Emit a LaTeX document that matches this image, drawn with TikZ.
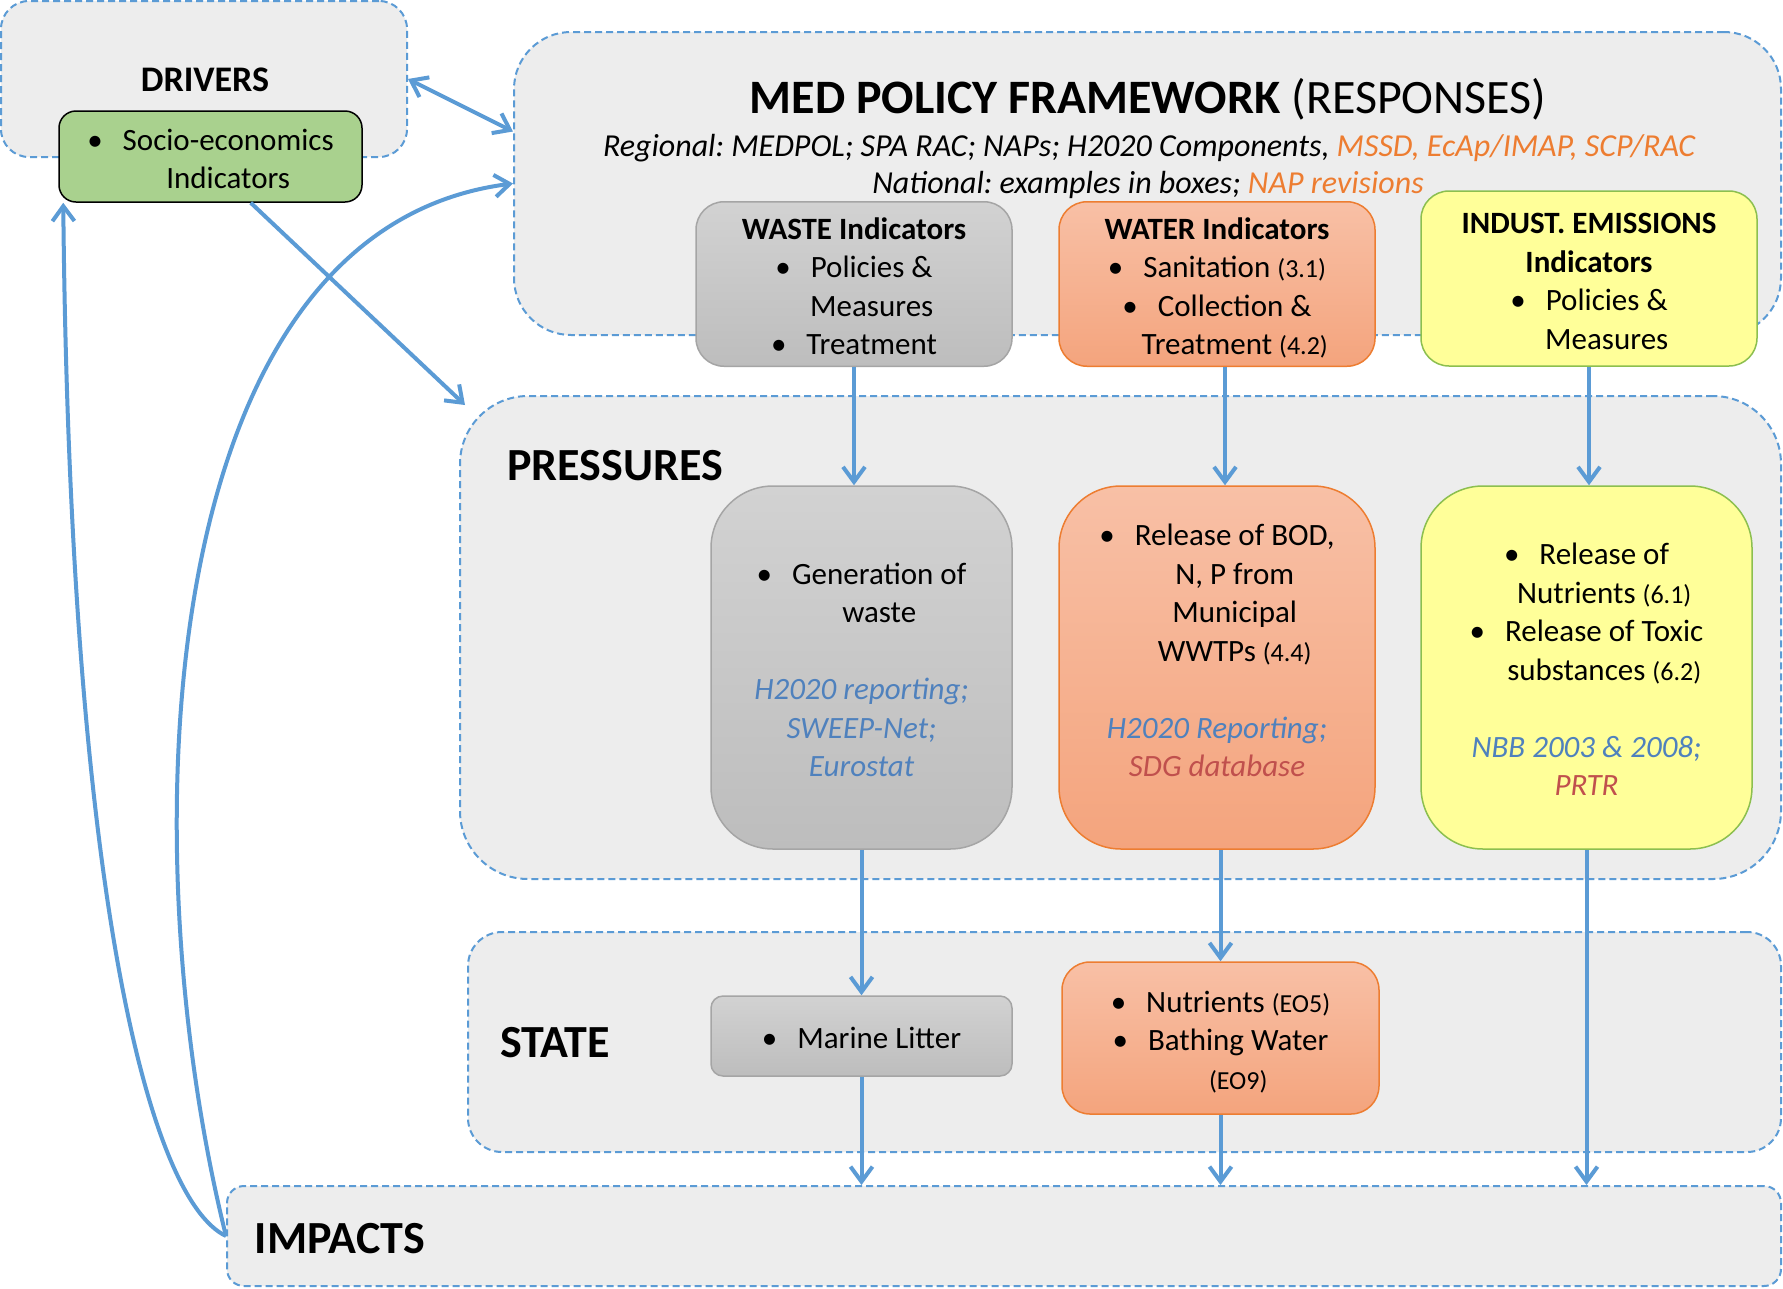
\documentclass[tikz,border=0pt]{standalone}
\usepackage{fontspec}
\setmainfont{Carlito}
\usepackage{tikz}
\usetikzlibrary{arrows.meta}

\definecolor{dpsblue}{HTML}{5B9BD5}
\definecolor{panelgray}{HTML}{EDEDED}
\definecolor{wastetop}{HTML}{D2D2D2}
\definecolor{wastebot}{HTML}{BDBDBD}
\definecolor{wasteline}{HTML}{A5A5A5}
\definecolor{watertop}{HTML}{F8C0A6}
\definecolor{waterbot}{HTML}{F4A47D}
\definecolor{waterline}{HTML}{ED7D31}
\definecolor{industfill}{HTML}{FFFF99}
\definecolor{industline}{HTML}{8CBF4F}
\definecolor{drivfill}{HTML}{A9D18E}
\definecolor{srcblue}{HTML}{4F81BD}
\definecolor{srcred}{HTML}{C0504D}
\definecolor{naporange}{HTML}{ED7D31}

\frenchspacing
\setlength{\lineskip}{0pt}
\newcommand{\bodyfont}{\fontsize{31}{38.5}\selectfont}
\newcommand{\bitem}[1]{\strut\hphantom{\textbullet\hspace{20pt}}\begin{tabular}[t]{@{}c@{}}\llap{\textbullet\hspace{20pt}}#1\end{tabular}}
\newcommand{\smallnum}[1]{{\fontsize{26}{38.5}\selectfont #1}}
\newcommand{\srcb}[1]{\strut\textcolor{srcblue}{\itshape #1}}
\newcommand{\srcr}[1]{\strut\textcolor{srcred}{\itshape #1}}
\newcommand{\boxtop}{\strut\\[-28pt]}

\begin{document}
\begin{tikzpicture}[x=1pt,y=-1pt,
  panel/.style={draw=dpsblue,line width=2pt,dash pattern=on 7pt off 4pt,fill=panelgray,rounded corners=#1,inner sep=0pt},
  stagelabel/.style={font=\fontsize{46}{52}\selectfont\bfseries},
  graybox/.style={draw=wasteline,line width=1.5pt,top color=wastetop,bottom color=wastebot,rounded corners=#1,align=center,inner sep=0pt,font=\bodyfont},
  orangebox/.style={draw=waterline,line width=1.5pt,top color=watertop,bottom color=waterbot,rounded corners=#1,align=center,inner sep=0pt,font=\bodyfont},
  yellowbox/.style={draw=industline,line width=1.5pt,fill=industfill,rounded corners=#1,align=center,inner sep=0pt,font=\bodyfont},
  greenbox/.style={draw=black,line width=1.5pt,fill=drivfill,rounded corners=#1,align=center,inner sep=0pt,font=\bodyfont},
  flow/.style={draw=dpsblue,line width=4pt,-{Straight Barb[length=15pt,width=22pt]}},
  flowboth/.style={flow,{Straight Barb[length=15pt,width=22pt]}-{Straight Barb[length=15pt,width=22pt]}}]
\path[use as bounding box,fill=white] (0,0) rectangle (1783,1288);
\clip (0,0) rectangle (1783,1288);

\node[panel=28pt,minimum width=406pt,minimum height=156pt] (drv) at (204,79) {};
\node[panel=57pt,minimum width=1267pt,minimum height=303pt] (med) at (1147.5,183.5) {};
\node[panel=68pt,minimum width=1321pt,minimum height=483pt] (prs) at (1120.5,637.5) {};
\node[panel=34pt,minimum width=1313pt,minimum height=220pt] (sta) at (1124.5,1042) {};
\node[panel=17pt,minimum width=1554pt,minimum height=100pt] (imp) at (1004,1236) {};

\node[font=\fontsize{36}{40}\selectfont\bfseries] (drvlabel) at (205,80) {DRIVERS};
\node[stagelabel] (prslabel) at (615,466) {PRESSURES};
\node[stagelabel] (stalabel) at (555,1043) {STATE};
\node[stagelabel] (implabel) at (340,1239) {IMPACTS};
\node[font=\fontsize{48}{56}\selectfont] (medtitle) at (1148,99) {\textbf{MED POLICY FRAMEWORK} (RESPONSES)};
\node[font=\fontsize{32}{38}\selectfont\itshape] (medreg) at (1149,148) {Regional: MEDPOL; SPA RAC; NAPs; H2020 Components, \textcolor{naporange}{MSSD, EcAp/IMAP, SCP/RAC}};
\node[font=\fontsize{32}{38}\selectfont\itshape] (mednat) at (1148,185) {National: examples in boxes; \textcolor{naporange}{NAP revisions}};

\node[greenbox=17pt,minimum width=303pt,minimum height=91pt] (socio) at (210.5,156.5) {\boxtop\bitem{Socio-economics\\Indicators}};

\node[graybox=28pt,minimum width=316pt,minimum height=164pt] (wasteind) at (854,284)
  {\boxtop{\strut\bfseries WASTE Indicators}\\\bitem{Policies \&\\Measures}\\\bitem{Treatment}};
\node[orangebox=28pt,minimum width=316pt,minimum height=164pt] (waterind) at (1217,284)
  {\boxtop{\strut\bfseries WATER Indicators}\\\bitem{Sanitation \smallnum{(3.1)}}\\\bitem{Collection \&\\Treatment \smallnum{(4.2)}}};
\node[yellowbox=28pt,minimum width=336pt,minimum height=175pt] (industind) at (1589,278.5)
  {\boxtop{\strut\bfseries INDUST. EMISSIONS}\\{\strut\bfseries Indicators}\\\bitem{Policies \&\\Measures}};

\node[graybox=62pt,minimum width=301pt,minimum height=363pt] (wastep) at (861.5,667.5)
  {\boxtop\bitem{Generation of\\waste}\\\strut\\\srcb{H2020 reporting;}\\\srcb{SWEEP-Net;}\\\srcb{Eurostat}};
\node[orangebox=62pt,minimum width=316pt,minimum height=363pt] (waterp) at (1217,667.5)
  {\boxtop\bitem{Release of BOD,\\N, P from\\Municipal\\WWTPs \smallnum{(4.4)}}\\\strut\\\srcb{H2020 Reporting;}\\\srcr{SDG database}\\\strut};
\node[yellowbox=62pt,minimum width=331pt,minimum height=363pt] (industp) at (1586.5,667.5)
  {\boxtop\bitem{Release of\\Nutrients \smallnum{(6.1)}}\\\bitem{Release of Toxic\\substances \smallnum{(6.2)}}\\\strut\\\srcb{NBB 2003 \& 2008;}\\\srcr{PRTR}};

\node[graybox=12pt,minimum width=301pt,minimum height=80pt] (litter) at (861.5,1036) {\boxtop\bitem{Marine Litter}};
\node[orangebox=28pt,minimum width=317pt,minimum height=152pt] (eo) at (1220.5,1038)
  {\boxtop\bitem{Nutrients \smallnum{(EO5)}}\\\bitem{Bathing Water\\\smallnum{(EO9)}}};

\draw[flowboth] (drv.east) -- ([yshift=52pt]med.west);
\draw[flow] (socio.-49) -- ([xshift=6pt,yshift=-10pt]prs.north west);
\draw[flow] (imp.west) .. controls (150,1200) and (70,900) .. ([xshift=5pt]socio.south west);
\draw[flow] (imp.west) .. controls (130,850) and (150,230) .. (med.west);
\foreach \a/\b in {wasteind/wastep,industind/industp}
  \draw[flow] (\a.south) -- (\a.south |- \b.north);
\draw[flow] ([xshift=8pt]waterind.south) -- ([xshift=8pt]waterind.south |- waterp.north);
\draw[flow] (wastep.south) -- (litter.north);
\draw[flow] (eo.north |- waterp.south) -- (eo.north);
\foreach \a in {litter,eo,industp}
  \draw[flow] (\a.south) -- (\a.south |- imp.north);
\end{tikzpicture}
\end{document}
